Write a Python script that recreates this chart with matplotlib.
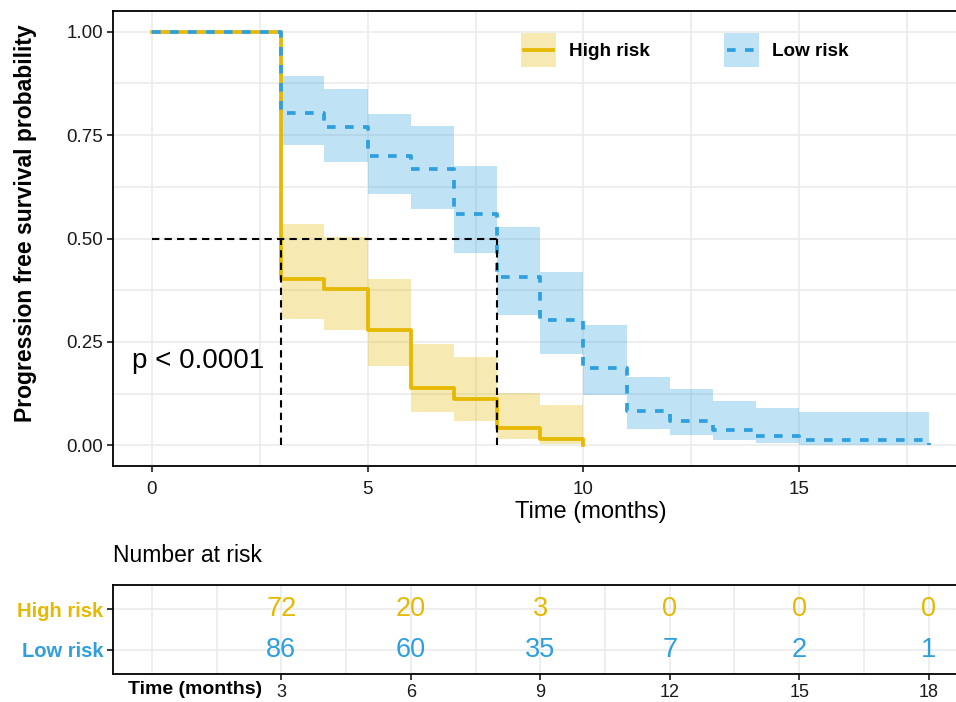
import matplotlib
matplotlib.use("Agg")
import matplotlib.pyplot as plt
from matplotlib.patches import Rectangle
from matplotlib.lines import Line2D

plt.rcParams['font.family'] = ['Liberation Sans', 'DejaVu Sans']

# ---------------- data ----------------
groups = ["High risk", "Low risk"]
colors = ["#E7B800", "#2E9FDF"]

times_high = [0, 3, 4, 5, 6, 7, 8, 9, 10]
surv_high = [1.0, 0.403, 0.377, 0.279, 0.139, 0.111, 0.043, 0.0145, 0.0]
upper_high = [1.0, 0.534, 0.504, 0.403, 0.246, 0.213, 0.126, 0.097, 0.0]
lower_high = [1.0, 0.306, 0.280, 0.192, 0.080, 0.059, 0.015, 0.002, 0.0]

times_low = [0, 3, 4, 5, 6, 7, 8, 9, 10, 11, 12, 13, 14, 15, 18]
surv_low = [1.0, 0.804, 0.769, 0.699, 0.667, 0.560, 0.407, 0.304, 0.186, 0.082, 0.059, 0.036, 0.023, 0.012, 0.0]
upper_low = [1.0, 0.892, 0.862, 0.802, 0.771, 0.675, 0.527, 0.418, 0.290, 0.164, 0.135, 0.106, 0.091, 0.081, 0.0]
lower_low = [1.0, 0.725, 0.684, 0.608, 0.572, 0.464, 0.316, 0.220, 0.121, 0.040, 0.026, 0.013, 0.006, 0.001, 0.0]

medians = [3, 8]
pval_text = "p < 0.0001"

risk_times = [3, 6, 9, 12, 15, 18]
risk_high = [72, 20, 3, 0, 0, 0]
risk_low = [86, 60, 35, 7, 2, 1]

x_ticks = [0, 5, 10, 15]
y_ticks = [0.0, 0.25, 0.5, 0.75, 1.0]
y_ticklabels = ["0.00", "0.25", "0.50", "0.75", "1.00"]

# ---------------- figure ----------------
W, H = 956, 702
fig = plt.figure(figsize=(W / 100, H / 100), dpi=100)

L, R = 113, 967.5
ax = fig.add_axes([L / W, 1 - 466 / H, (R - L) / W, (466 - 11) / H])
ax2 = fig.add_axes([L / W, 1 - 674 / H, (R - L) / W, (674 - 585) / H])

xlim = (-0.9, 18.9)
grid_c = "#EBEBEB"
txt_c = "#1a1a1a"
lw_curve = 2.7
dash_low = (0, (2.3, 2.5))
dash_med = (0, (3.5, 2.5))
styles = ["-", dash_low]

# main plot
ax.set_xlim(*xlim)
ax.set_ylim(-0.05, 1.05)
ax.set_xticks(x_ticks)
ax.set_xticks([2.5, 7.5, 12.5, 17.5], minor=True)
ax.set_yticks(y_ticks)
ax.set_yticklabels(y_ticklabels)
ax.set_yticks([0.125, 0.375, 0.625, 0.875], minor=True)
ax.grid(which="both", color=grid_c, lw=1.2, zorder=0)
ax.set_axisbelow(True)
ax.tick_params(which="minor", length=0)
ax.tick_params(which="major", length=4, width=1.2, color=txt_c, labelsize=13.5,
               labelcolor=txt_c)
ax.tick_params(axis="x", pad=7)
ax.tick_params(axis="y", pad=3)
for s in ax.spines.values():
    s.set_linewidth(1.3)
    s.set_color("black")
ax.spines["right"].set_visible(False)

ax.fill_between(times_high, lower_high, upper_high, step="post",
                color=colors[0], alpha=0.3, lw=0, zorder=2)
ax.fill_between(times_low, lower_low, upper_low, step="post",
                color=colors[1], alpha=0.3, lw=0, zorder=2)
l1, = ax.step(times_high, surv_high, where="post", color=colors[0], lw=lw_curve,
              zorder=3)
l2, = ax.step(times_low, surv_low, where="post", color=colors[1], lw=lw_curve,
              linestyle=dash_low, zorder=4)

# median lines
ax.plot([0, max(medians)], [0.5, 0.5], color="black", lw=1.5,
        linestyle=dash_med, zorder=5)
for m in medians:
    ax.plot([m, m], [0, 0.5], color="black", lw=1.5,
            linestyle=dash_med, zorder=5)

ax.text(-0.47, 0.203, pval_text, fontsize=20, ha="left", va="center",
        color="black", zorder=6)

ax.set_xlabel("Time (months)", fontsize=17, color="black")
ax.xaxis.label.set_va("center")
ax.xaxis.set_label_coords((591 - L) / (R - L), -(512 - 466) / 455)
ax.set_ylabel("Progression free survival probability", fontsize=16.5,
              fontweight="bold", color="black")
ax.yaxis.label.set_va("center")
ax.yaxis.set_label_coords((26 - L) / (R - L), (466 - 223) / 455)


class BoxLineHandler:
    def __init__(self, color, ls):
        self.color = color
        self.ls = ls

    def legend_artist(self, legend, orig_handle, fontsize, handlebox):
        x0, y0 = -handlebox.xdescent, -handlebox.ydescent
        w, h = handlebox.width, handlebox.height
        tr = handlebox.get_transform()
        rect = Rectangle((x0, y0), w, h, facecolor=self.color, alpha=0.3,
                         lw=0, transform=tr)
        inset = 0.08 * w
        line = Line2D([x0 + inset, x0 + w - inset], [y0 + h / 2] * 2,
                      color=self.color, lw=lw_curve, linestyle=self.ls,
                      transform=tr)
        handlebox.add_artist(rect)
        handlebox.add_artist(line)
        return rect


leg = ax.legend([l1, l2], groups,
                handler_map={l1: BoxLineHandler(colors[0], styles[0]),
                             l2: BoxLineHandler(colors[1], styles[1])},
                ncol=2, loc="center left",
                bbox_to_anchor=((521 - L) / (R - L), (466 - 50) / 455),
                frameon=False, borderpad=0, borderaxespad=0,
                handlelength=1.85, handleheight=2.47, handletextpad=0.7,
                columnspacing=3.9, prop={"size": 13.6, "weight": "bold"})

# ---------------- risk table ----------------
ax2.set_xlim(*xlim)
ax2.set_ylim(0.4, 2.6)
ax2.set_xticks(risk_times)
ax2.set_xticks([0, 1.5, 4.5, 7.5, 10.5, 13.5, 16.5], minor=True)
ax2.set_yticks([2, 1])
ax2.set_yticklabels(groups)
for lab, c in zip(ax2.get_yticklabels(), colors):
    lab.set_color(c)
    lab.set_fontweight("bold")
    lab.set_fontsize(14.5)
ax2.grid(which="both", axis="x", color=grid_c, lw=1.2)
ax2.grid(which="major", axis="y", color=grid_c, lw=1.2)
ax2.set_axisbelow(True)
ax2.tick_params(which="minor", length=0)
ax2.tick_params(which="major", length=4, width=1.2, color=txt_c)
ax2.tick_params(axis="x", labelsize=13, labelcolor=txt_c, pad=3)
ax2.tick_params(axis="y", pad=3)
for s in ax2.spines.values():
    s.set_linewidth(1.3)
    s.set_color("black")
ax2.spines["right"].set_visible(False)

for t, nh, nl in zip(risk_times, risk_high, risk_low):
    ax2.text(t, 2, str(nh), color=colors[0], fontsize=19.5, ha="center", va="center")
    ax2.text(t, 1, str(nl), color=colors[1], fontsize=19.5, ha="center", va="center")

fig.text(L / W, 1 - 555 / H, "Number at risk", fontsize=16.5, ha="left",
         va="center", color="black")
fig.text(262 / W, 1 - 690 / H, "Time (months)", fontsize=14, fontweight="bold",
         ha="right", va="center", color="black")

fig.savefig("out.png", dpi=100)
